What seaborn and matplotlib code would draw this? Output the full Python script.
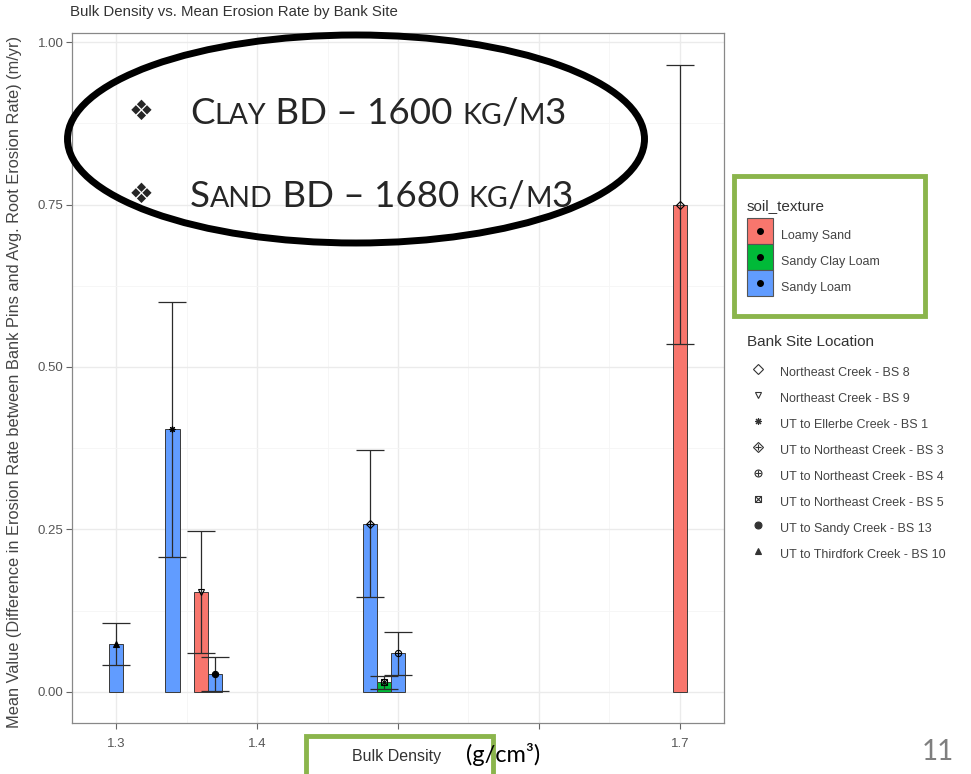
import numpy as np
import pandas as pd
import matplotlib
matplotlib.use("Agg")
import matplotlib.pyplot as plt
import seaborn as sns
from matplotlib.patches import Rectangle, Ellipse
from matplotlib.lines import Line2D
from matplotlib.transforms import IdentityTransform

# data
bulk_density = [1.30, 1.34, 1.36, 1.37, 1.48, 1.49, 1.50, 1.70]
soil_texture = ["Sandy Loam", "Sandy Loam", "Loamy Sand", "Sandy Loam",
                "Sandy Loam", "Sandy Clay Loam", "Sandy Loam", "Loamy Sand"]
bank_site = ["UT to Thirdfork Creek - BS 10", "UT to Ellerbe Creek - BS 1",
             "Northeast Creek - BS 9", "UT to Sandy Creek - BS 13",
             "UT to Northeast Creek - BS 3", "UT to Northeast Creek - BS 5",
             "UT to Northeast Creek - BS 4", "Northeast Creek - BS 8"]
mean_rate = [0.074, 0.404, 0.154, 0.027, 0.259, 0.015, 0.059, 0.750]
rate_err = [0.032, 0.196, 0.094, 0.026, 0.113, 0.010, 0.033, 0.215]

texture_levels = ["Loamy Sand", "Sandy Clay Loam", "Sandy Loam"]
texture_colors = ["#F8766D", "#00BA38", "#619CFF"]
site_levels = ["Northeast Creek - BS 8", "Northeast Creek - BS 9",
               "UT to Ellerbe Creek - BS 1", "UT to Northeast Creek - BS 3",
               "UT to Northeast Creek - BS 4", "UT to Northeast Creek - BS 5",
               "UT to Sandy Creek - BS 13", "UT to Thirdfork Creek - BS 10"]
site_shapes = [[("D", False)], [("v", False)], [((8, 2, 0), True)],
               [("D", False), ("+", True)], [("o", False), ("+", True)],
               [("s", False), ("x", True)], [("o", True)], [("^", True)]]

df = pd.DataFrame({"bd": bulk_density, "texture": soil_texture,
                   "site": bank_site, "mean": mean_rate, "err": rate_err})

sns.set_style("white")
plt.rcParams["font.family"] = ["Liberation Sans", "DejaVu Sans"]

W, H = 971, 774
fig = plt.figure(figsize=(W / 100, H / 100), dpi=100)
ax = fig.add_axes([72 / W, 1 - 723 / H, (724 - 72) / W, (723 - 33) / H])

palette = dict(zip(texture_levels, texture_colors))
sns.barplot(data=df, x="bd", y="mean", hue="texture", hue_order=texture_levels,
            palette=palette, saturation=1, native_scale=True, dodge=False, width=1.0,
            orient="x", errorbar=None, edgecolor="#3a3a3a", linewidth=0.7,
            legend=False, ax=ax, zorder=2)
ax.errorbar(df["bd"], df["mean"], yerr=df["err"], fmt="none", ecolor="#2b2b2b",
            elinewidth=0.9, capsize=10.4, capthick=0.9, zorder=3)


def shape_lines(shape, ms, col):
    out = []
    for m, filled in shape:
        out.append(Line2D([], [], ls="none", marker=m, ms=ms,
                          mfc=col if filled else "none", mec=col, mew=0.8))
    return out


# points at the bar tops, one shape per bank site
for _, row in df.iterrows():
    shape = site_shapes[site_levels.index(row["site"])]
    for m, filled in shape:
        ax.plot([row["bd"]], [row["mean"]], ls="none", marker=m, ms=4.5,
                mfc="black" if filled else "none", mec="black", mew=0.8, zorder=4)

ax.set_xlim(1.2687, 1.7313)
ax.set_ylim(-0.048, 1.014)
ax.set_xticks([1.3, 1.4, 1.5, 1.6, 1.7])
# the 1.6 label sits under the "(g/cm³)" slide text in the original
ax.set_xticklabels(["1.3", "1.4", "1.5", "", "1.7"])
ax.set_xticks([1.35, 1.45, 1.55, 1.65], minor=True)
ax.set_yticks([0, 0.25, 0.5, 0.75, 1.0])
ax.set_yticklabels(["0.00", "0.25", "0.50", "0.75", "1.00"])
ax.set_yticks([0.125, 0.375, 0.625, 0.875], minor=True)
ax.grid(which="major", color="#EBEBEB", lw=1.0)
ax.grid(which="minor", color="#F5F5F5", lw=0.6)
ax.set_axisbelow(True)
ax.tick_params(which="major", direction="out", length=4, width=0.8, color="#666666",
               labelsize=9.5, labelcolor="#555555", pad=2, bottom=True, left=True)
ax.tick_params(axis="x", which="major", pad=7)
ax.tick_params(which="minor", length=0)
for sp in ax.spines.values():
    sp.set_color("#888888")
    sp.set_linewidth(0.9)
ax.set_xlabel("")
ax.set_ylabel("")

fig.text(70 / W, 1 - 12 / H, "Bulk Density vs. Mean Erosion Rate by Bank Site",
         fontsize=10.8, color="#333333", va="center", ha="left")
fig.text(15 / W, 1 - 382 / H,
         "Mean Value (Difference in Erosion Rate between Bank Pins and Avg. Root Erosion Rate) (m/yr)",
         fontsize=11.8, color="#444444", rotation=90, va="center", ha="center")

# legends
green = "#8BB54C"
tex_handles = [(Line2D([], [], ls="none", marker="s", ms=18.5, mfc=c, mec="#555555", mew=0.8),
                Line2D([], [], ls="none", marker="o", ms=4, color="black"))
               for c in texture_colors]
leg1 = fig.legend(tex_handles, texture_levels, title="soil_texture",
                  loc="upper left", bbox_to_anchor=(747 / W, 1 - 199 / H),
                  frameon=False, borderpad=0, borderaxespad=0, fontsize=9,
                  title_fontsize=11, handlelength=2.08, handleheight=2.82,
                  labelspacing=0, handletextpad=0.65, alignment="left")
leg1._legend_box.sep = 7
for t in leg1.get_texts():
    t.set_color("#444444")
leg1.get_title().set_color("#333333")

site_handles = [tuple(shape_lines(s, 5, "#333333")) for s in site_shapes]
leg2 = fig.legend(site_handles, site_levels, title="Bank Site Location",
                  loc="upper left", bbox_to_anchor=(747 / W, 1 - 335 / H),
                  frameon=False, borderpad=0, borderaxespad=0, fontsize=9,
                  title_fontsize=11, handlelength=1.76, handleheight=2.05,
                  labelspacing=0.5, handletextpad=0.9, alignment="left")
leg2._legend_box.sep = 9.5
for t in leg2.get_texts():
    t.set_color("#444444")
leg2.get_title().set_color("#333333")

fig.add_artist(Rectangle((734 / W, 1 - 316 / H), (925 - 734) / W, (316 - 176) / H,
                         transform=fig.transFigure, fill=False, ec=green, lw=3.5, zorder=5))

# x label inside green box
fig.add_artist(Rectangle((306 / W, 1 - 790 / H), (493 - 306) / W, (790 - 736) / H,
                         transform=fig.transFigure, fc="white", ec=green, lw=3.5, zorder=5))
fig.text(397 / W, 1 - 757 / H, "Bulk Density", fontsize=11.5, color="#333333",
         ha="center", va="center", zorder=6)
fig.text(466 / W, 1 - 755 / H, "(g/cm³)", fontsize=17, family=["Lato", "DejaVu Sans"],
         color="black", ha="left", va="center", zorder=7)
fig.text(938 / W, 1 - 752 / H, "11", fontsize=20, family=["Lato", "DejaVu Sans"],
         color="#7F7F7F", ha="center", va="center")

# oval callout
fig.add_artist(Ellipse((356 / W, 1 - 139 / H), 577 / W, 208 / H, transform=fig.transFigure,
                       fill=False, ec="black", lw=5, zorder=8))

renderer = fig.canvas.get_renderer()
big, small = 26.5, 20.5
lines = [
    (124, [("C", big), ("LAY", small), (" BD – 1600 ", big), ("KG", small),
           ("/", big), ("M", small), ("3", big)]),
    (207, [("S", big), ("AND", small), (" BD – 1680 ", big), ("KG", small),
           ("/", big), ("M", small), ("3", big)]),
]
for base, parts in lines:
    fig.text(141, H - base + 12, "❖", fontsize=20, family=["DejaVu Sans"],
             transform=IdentityTransform(), ha="center", va="center", zorder=9)
    x = 190
    for s, fs in parts:
        t = fig.text(x, H - base, s, fontsize=fs, family=["Lato", "DejaVu Sans"],
                     transform=IdentityTransform(), ha="left", va="baseline", zorder=9)
        x = t.get_window_extent(renderer).x1

fig.savefig("out.png", dpi=100)
